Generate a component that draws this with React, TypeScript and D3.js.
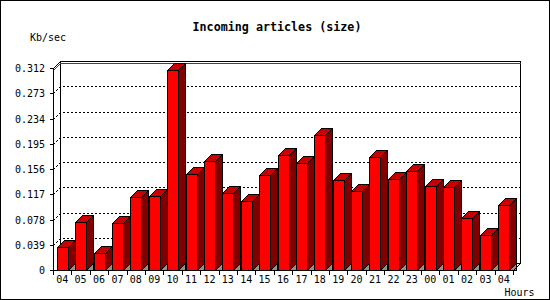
import React from "react";
import * as d3 from "d3";

const hours = ["04","05","06","07","08","09","10","11","12","13","14","15","16","17","18","19","20","21","22","23","00","01","02","03","04"];
const kbPerSec = [0.036,0.0737,0.0258,0.0721,0.1132,0.1148,0.3084,0.1478,0.1689,0.1194,0.1061,0.1462,0.1781,0.1658,0.2085,0.139,0.1215,0.174,0.140,0.1524,0.1297,0.1277,0.0798,0.0536,0.0999];
const yTicks = [0,0.039,0.078,0.117,0.156,0.195,0.234,0.273,0.312];
const yTickLabels = ["0","0.039","0.078","0.117","0.156","0.195","0.234","0.273","0.312"];
const title = "Incoming articles (size)";
const yTitle = "Kb/sec";
const xTitle = "Hours";

const W = 550, H = 300;
const D = 7; // 3D depth
const FONT = "'DejaVu Sans Mono', 'Liberation Mono', monospace";

export default function App() {
  const x = d3.scaleBand<number>().domain(d3.range(hours.length)).range([53, 513]).paddingInner(0).paddingOuter(0);
  const y = d3.scaleLinear().domain([0, 0.312]).range([270, 68]);
  const bw = x.bandwidth();
  const barW = 11;
  const y0 = y(0);
  const maxV = d3.max(kbPerSec) as number;
  const yMax = y(maxV);
  const left = x.range()[0];
  const right = x.range()[1];
  const top = y(0.312);

  return (
    <svg width={W} height={H} style={{ position: "absolute", left: 0, top: 0, background: "#fff" }} fontFamily={FONT}>
      <rect x={0.5} y={0.5} width={W - 1} height={H - 1} fill="#fff" stroke="#000" />
      {/* back plane */}
      <rect x={left + D + 0.5} y={top - D + 0.5} width={right - left} height={y0 - top} fill="#fff" stroke="#000" shapeRendering="crispEdges" />
      {/* grid lines */}
      {yTicks.slice(1, -1).map((t, i) => (
        <path key={i} d={`M${left + 0.5},${Math.round(y(t)) + 0.5}L${left + D + 0.5},${Math.round(y(t)) - D + 0.5}H${right + D + 0.5}`} fill="none" stroke="#000" strokeDasharray="2,2" shapeRendering="crispEdges" />
      ))}
      {/* max line */}
      <path d={`M${left + 0.5},${Math.round(yMax) + 0.5}L${left + D + 0.5},${Math.round(yMax) - D + 0.5}H${right + D + 0.5}`} fill="none" stroke="#e00000" shapeRendering="crispEdges" />
      {/* top-left diagonal and bottom-right diagonal */}
      <path d={`M${left + 0.5},${top + 0.5}L${left + D + 0.5},${top - D + 0.5}`} stroke="#000" fill="none" shapeRendering="crispEdges" />
      {/* bars */}
      {kbPerSec.map((v, i) => {
        const x0 = Math.round((x(i) as number) + (bw - barW) / 2);
        const x1 = x0 + barW;
        const yt = Math.round(y(v));
        return (
          <g key={i} stroke="#000" strokeWidth={1} strokeLinejoin="miter" shapeRendering="crispEdges">
            <path d={`M${x1 + 0.5},${y0 + 0.5}L${x1 + D + 0.5},${y0 - D + 0.5}V${y0 + 0.5}Z`} fill="#909090" />
            <path d={`M${x1 + 0.5},${yt + 0.5}L${x1 + D + 0.5},${yt - D + 0.5}V${y0 - D + 0.5}L${x1 + 0.5},${y0 + 0.5}Z`} fill="#800000" />
            <path d={`M${x0 + 0.5},${yt + 0.5}L${x0 + D + 0.5},${yt - D + 0.5}H${x1 + D + 0.5}L${x1 + 0.5},${yt + 0.5}Z`} fill="#c80000" />
            <rect x={x0 + 0.5} y={yt + 0.5} width={barW} height={y0 - yt} fill="#ff0000" />
          </g>
        );
      })}
      <path d={`M${right + 0.5},${y0 + 0.5}L${right + D + 0.5},${y0 - D + 0.5}`} stroke="#000" fill="none" shapeRendering="crispEdges" />
      {/* axes */}
      <line x1={left + 0.5} x2={left + 0.5} y1={top} y2={y0 + 5} stroke="#000" shapeRendering="crispEdges" />
      <line x1={left} x2={right + 1} y1={y0 + 0.5} y2={y0 + 0.5} stroke="#000" shapeRendering="crispEdges" />
      {yTicks.map((t, i) => (
        <g key={i}>
          <line x1={left - 3} x2={left} y1={Math.round(y(t)) + 0.5} y2={Math.round(y(t)) + 0.5} stroke="#000" shapeRendering="crispEdges" />
          <text x={45} y={Math.round(y(t)) + 3.5} textAnchor="end" fontSize={10}>{yTickLabels[i]}</text>
        </g>
      ))}
      {d3.range(hours.length + 1).map((i) => {
        const xx = Math.round(left + i * bw) + 0.5;
        return <line key={i} x1={xx} x2={xx} y1={y0} y2={y0 + 5} stroke="#000" shapeRendering="crispEdges" />;
      })}
      {hours.map((h, i) => (
        <text key={i} x={(x(i) as number) + bw / 2} y={283} textAnchor="middle" fontSize={10}>{h}</text>
      ))}
      <text x={277} y={31} textAnchor="middle" fontSize={11.7} fontWeight="bold">{title}</text>
      <text x={30} y={40.5} fontSize={10}>{yTitle}</text>
      <text x={504.5} y={296} fontSize={10}>{xTitle}</text>
    </svg>
  );
}
